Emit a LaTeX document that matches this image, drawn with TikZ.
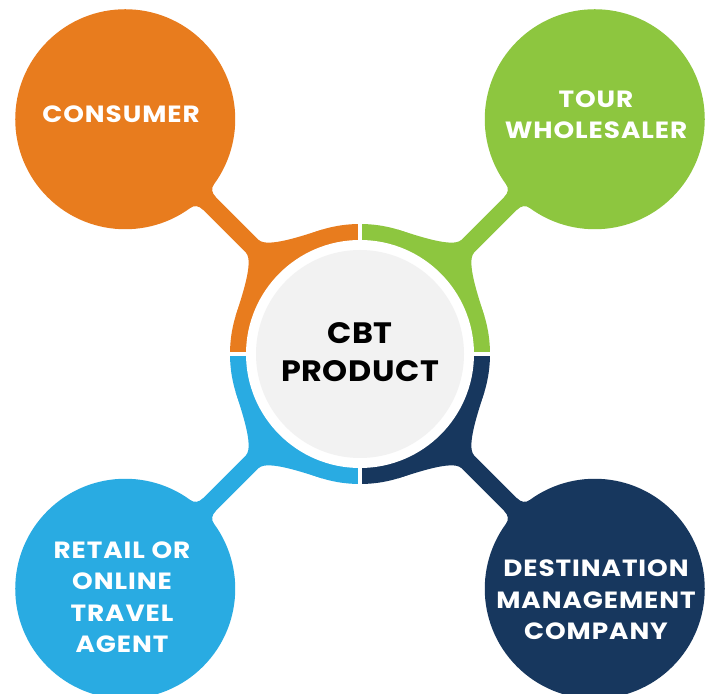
\documentclass[tikz,border=0pt]{standalone}
\usepackage{fontspec}
\setmainfont{Poppins}
\newfontfamily\widepop{Poppins}[LetterSpace=4, FakeStretch=1.12]
\newfontfamily\midpop{Poppins}[LetterSpace=2, FakeStretch=1.08]
\usetikzlibrary{calc}
\definecolor{corange}{HTML}{E87C1E}
\definecolor{cgreen}{HTML}{8DC63F}
\definecolor{cnavy}{HTML}{17375E}
\definecolor{cblue}{HTML}{29ABE2}
\definecolor{cgray}{HTML}{F2F2F2}
\tikzset{
  outlabel/.style={text=white, align=center, inner sep=0pt, font=\widepop\bfseries\fontsize{23.5}{31.5}\selectfont},
  centerlabel/.style={text=black, align=center, inner sep=0pt, font=\midpop\bfseries\fontsize{29.5}{38}\selectfont},
}
\newcommand{\petal}[2]{%
  \fill[#2] (0,0) -- (#1-45:130) arc[start angle=#1-45, end angle=#1+45, radius=130] -- cycle;
  \begin{scope}[rotate=#1]
    \fill[#2] (28:130) .. controls +(-62:20) and (140,10) .. (152,9) -- (152,-9)
      .. controls (140,-10) and +(62:20) .. (-28:130) -- (-28:118)
      arc[start angle=-28, end angle=28, radius=118] -- cycle;
    \fill[#2] (140,-9) rectangle (250,9);
    \fill[#2] (213,9) .. controls (219,9) and (222.5,12) .. (223.2,16.5) -- (236,16.5) -- (236,-16.5)
      -- (223.2,-16.5) .. controls (222.5,-12) and (219,-9) .. (213,-9) -- cycle;
    \fill[#2] (332,0) circle (110);
  \end{scope}}
\begin{document}
\begin{tikzpicture}[x=1pt,y=1pt]
\useasboundingbox (0,0) rectangle (713,694);
\fill[white] (0,0) rectangle (713,694);
\begin{scope}[shift={(360,340)}]
  \petal{135}{corange}
  \petal{45}{cgreen}
  \petal{-45}{cnavy}
  \petal{225}{cblue}
  \foreach \a in {0,90,180,270} \draw[white, line width=4.5pt] (0,0) -- (\a:134);
  \fill[white] (0,0) circle (114);
  \fill[cgray] (0,0) circle (104);
\end{scope}
\node[centerlabel] (center) at (360,342) {CBT\\PRODUCT};
\node[outlabel] (consumer) at (121,580) {CONSUMER};
\node[outlabel] (tour) at (596,579.5) {TOUR\\WHOLESALER};
\node[outlabel] (retail) at (122,97) {RETAIL OR\\ONLINE\\TRAVEL\\AGENT};
\node[outlabel] (dmc) at (596,94) {DESTINATION\\MANAGEMENT\\COMPANY};
\end{tikzpicture}
\end{document}
